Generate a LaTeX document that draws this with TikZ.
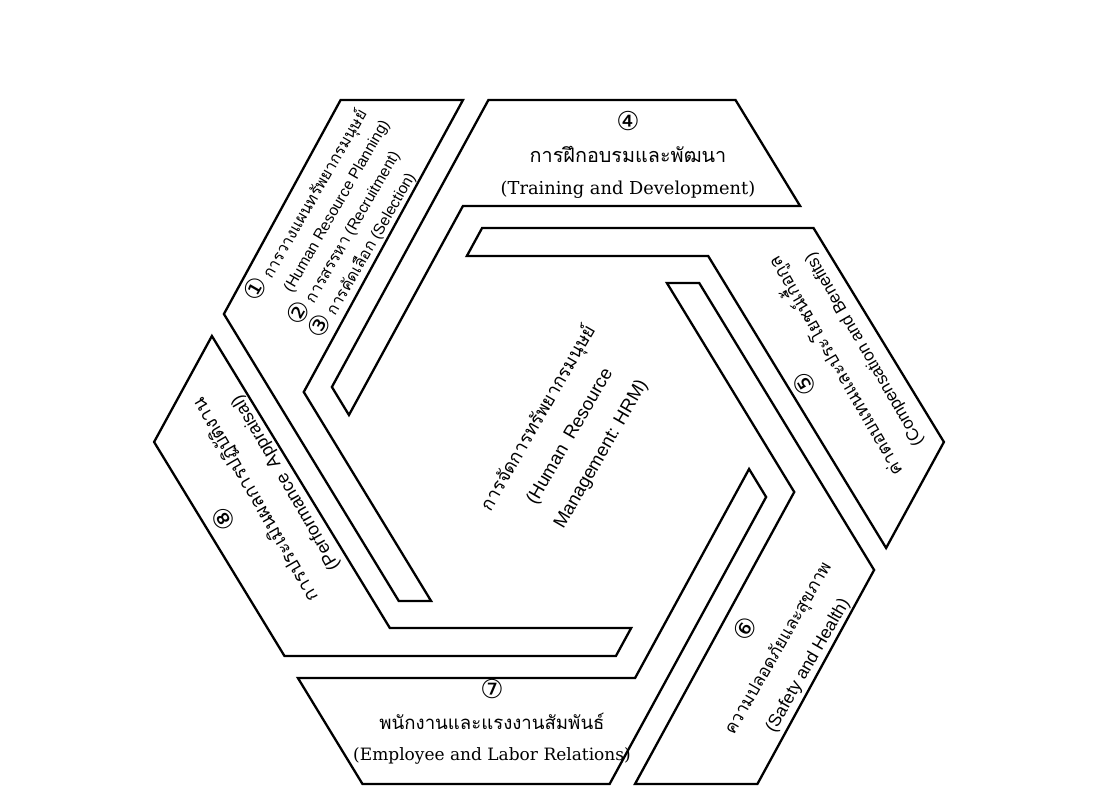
\documentclass[tikz,border=0pt]{standalone}
\usepackage{fontspec}
\setmainfont{Liberation Sans}
\newfontfamily\thai[Script=Thai]{Loma}
\newfontfamily\dvs{DejaVu Sans}
\newfontfamily\dvserif{DejaVu Serif}
\newcommand\cnum[1]{{\dvs\fontsize{26}{26}\selectfont #1}}
\newcommand\thtxt[2]{{\thai\fontsize{#1}{#1}\selectfont #2}}
\begin{document}
\begin{tikzpicture}[x=1pt,y=1pt,
  piece/.style={draw=black, line width=2.3pt, line join=miter, fill=white},
  lbl/.style={align=center, inner sep=0pt}]
\useasboundingbox (0,0) rectangle (1107,796);
\fill[white] (0,0) rectangle (1107,796);
\begin{scope}[cm={1,0,-0.032,1,(549,354)}]
  \foreach \r in {0,-60,-120,-180,-240,-300}{
    \begin{scope}[rotate=\r]
      \draw[piece] (258.65,236) -- (197.45,342) -- (-49.65,342) -- (-215.35,55)
        -- (-199.19,27) -- (-78.52,236) -- cycle;
    \end{scope}
  }
\end{scope}
\node[lbl, rotate=60, anchor=west, align=left, font=\fontsize{15.5}{24.5}\selectfont] (t1) at (282.5,478)
  {\cnum{①} \thtxt{16}{การวางแผนทรัพยากรมนุษย์}\\
   \hphantom{\cnum{①}\,}(Human Resource Planning)\\
   \cnum{②} \thtxt{16}{การสรรหา} (Recruitment)\\
   \cnum{③} \thtxt{16}{การคัดเลือก} (Selection)};
\node[lbl, font=\dvserif\fontsize{17.8}{32}\selectfont] (t4) at (628,641)
  {\cnum{④}\\\thtxt{19.8}{การฝึกอบรมและพัฒนา}\\(Training and Development)};
\node[lbl, rotate=120, font=\fontsize{17}{32}\selectfont] (t5) at (834,429)
  {\cnum{⑤}\\\thtxt{18}{ค่าตอบแทนและประโยชน์เกื้อกูล}\\(Compensation and Benefits)};
\node[lbl, rotate=60, font=\fontsize{17.5}{34}\selectfont] (t6) at (776,149)
  {\cnum{⑥}\\\thtxt{17.5}{ความปลอดภัยและสุขภาพ}\\(Safety and Health)};
\node[lbl, font=\dvserif\fontsize{17}{31}\selectfont] (t7) at (492,74)
  {\cnum{⑦}\\\thtxt{18.6}{พนักงานและแรงงานสัมพันธ์}\\(Employee and Labor Relations)};
\node[lbl, rotate=120, font=\fontsize{18}{34}\selectfont] (t8) at (254,295)
  {\cnum{⑧}\\\thtxt{18.8}{การประเมินผลการปฏิบัติงาน}\\(Performance\enspace Appraisal)};
\node[lbl, rotate=60, font=\fontsize{18.5}{36}\selectfont] (hrm) at (569,360)
  {\thtxt{18.5}{การจัดการทรัพยากรมนุษย์}\\(Human\enspace Resource\\Management: HRM)};
\end{tikzpicture}
\end{document}
